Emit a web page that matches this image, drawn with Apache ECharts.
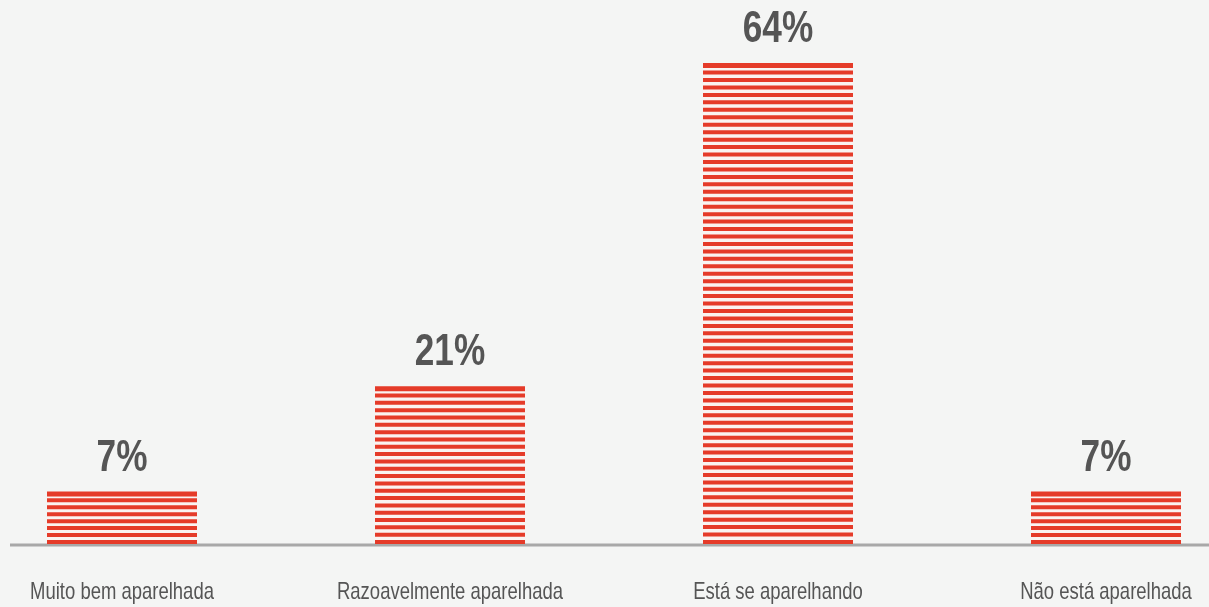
<!DOCTYPE html>
<html>
<head>
<meta charset="utf-8">
<script src="https://cdn.jsdelivr.net/npm/echarts@6/dist/echarts.min.js"></script>
<style>
  html, body { margin: 0; padding: 0; background: #f4f5f4; }
  #chart { width: 1209px; height: 607px; }
</style>
</head>
<body>
<div id="chart"></div>
<script>
// Survey answers and their shares (%)
const categories = ['Muito bem aparelhada', 'Razoavelmente aparelhada', 'Está se aparelhando', 'Não está aparelhada'];
const shares = [7, 21, 64, 7];

const RED = '#e53b29';
const STRIPE_GAP_FILL = '#faf3f1';
const TEXT_COLOR = '#555555';
const LABEL_FONT = '"Liberation Sans", Arial, sans-serif';

const chart = echarts.init(document.getElementById('chart'), null, { renderer: 'canvas' });

// Striped bar with its value on top and its category name below the baseline
function renderStripedBar(params, api) {
  const value = api.value(1);
  const top = api.coord([api.value(0), value]);
  const base = api.coord([api.value(0), 0]);
  const barWidth = 150;
  const x = top[0] - barWidth / 2;
  const y = top[1];
  const h = base[1] - top[1];
  const band = 4;
  const n = Math.max(1, Math.round((h - band) / 7.4));
  const period = (h - band) / n;
  const children = [{
    type: 'rect',
    shape: { x: x, y: y, width: barWidth, height: h },
    style: { fill: STRIPE_GAP_FILL }
  }];
  for (let i = 0; i <= n; i++) {
    children.push({
      type: 'rect',
      shape: { x: x, y: y + i * period, width: barWidth, height: i === 0 ? band + 1 : band },
      style: { fill: RED }
    });
  }
  // value label, condensed horizontally
  children.push({
    type: 'text',
    x: top[0],
    y: y - 33,
    scaleX: 0.8,
    style: {
      text: value + '%',
      fill: TEXT_COLOR,
      font: 'bold 44px ' + LABEL_FONT,
      align: 'center',
      verticalAlign: 'middle'
    }
  });
  // category name
  children.push({
    type: 'text',
    x: base[0],
    y: base[1] + 48.5,
    scaleX: 0.77,
    style: {
      text: categories[api.value(0)],
      fill: TEXT_COLOR,
      font: '24px ' + LABEL_FONT,
      align: 'center',
      verticalAlign: 'middle'
    }
  });
  return { type: 'group', children: children };
}

chart.setOption({
  backgroundColor: '#f4f5f4',
  animation: false,
  grid: { left: -42, right: -61, top: 3, bottom: 63, outerBoundsMode: 'none', containLabel: false },
  xAxis: {
    type: 'category',
    data: categories,
    boundaryGap: true,
    axisLine: { show: false },
    axisTick: { show: false },
    axisLabel: { show: false }
  },
  yAxis: {
    type: 'value',
    min: 0,
    max: 72,
    show: false,
    splitLine: { show: false }
  },
  series: [{
    type: 'custom',
    renderItem: renderStripedBar,
    data: shares.map((v, i) => [i, v]),
    clip: false,
    z: 2
  }]
});

// Baseline under the bars, running from near the left edge to the right edge
const baseY = chart.convertToPixel({ yAxisIndex: 0 }, 0);
chart.setOption({
  graphic: [{
    type: 'line',
    shape: { x1: 10, y1: baseY + 1, x2: 1209, y2: baseY + 1 },
    style: { stroke: '#a8a8a8', lineWidth: 3 },
    z: 1
  }]
});
</script>
</body>
</html>
